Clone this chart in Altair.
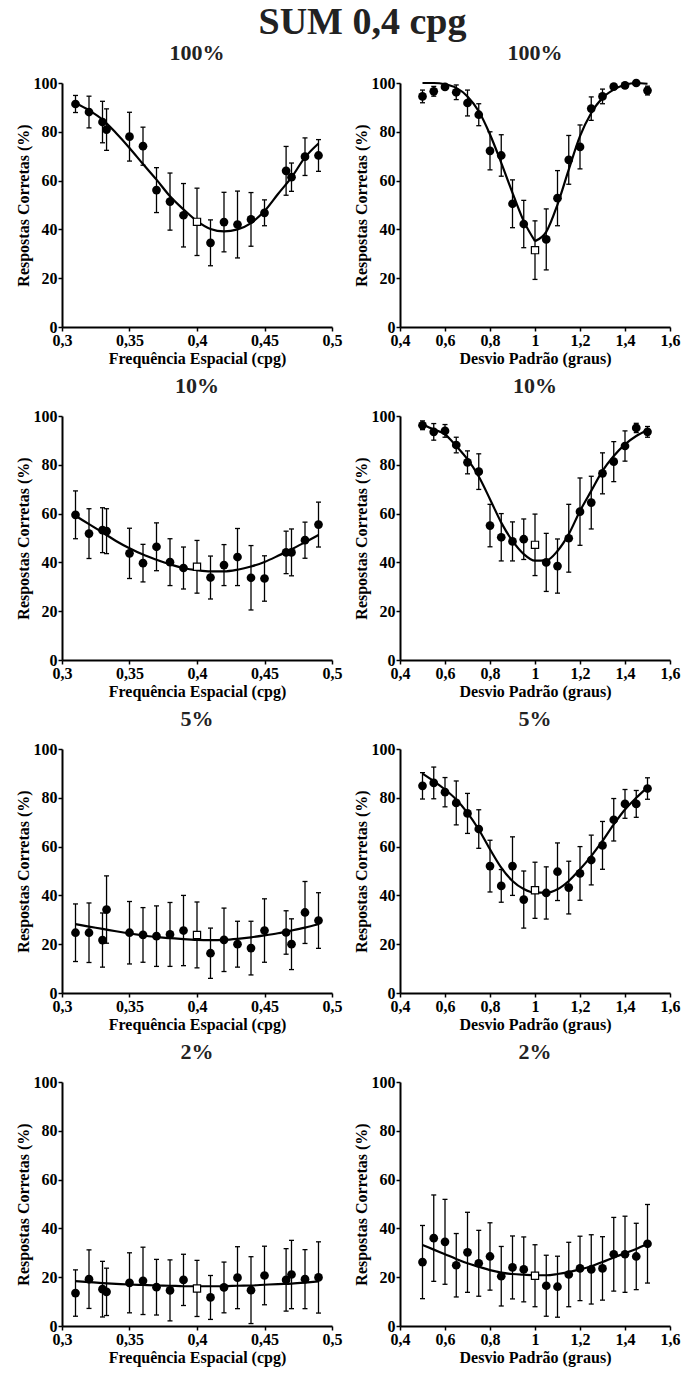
import altair as alt
import pandas as pd

# ---- x positions -------------------------------------------------------
# spatial frequency conditions (cpg)
SF_X = [0.31, 0.32, 0.33, 0.333, 0.35, 0.36, 0.37, 0.38, 0.39, 0.40,
        0.41, 0.42, 0.43, 0.44, 0.45, 0.466, 0.47, 0.48, 0.49]
# standard deviation conditions (degrees)
SD_X = [0.50, 0.55, 0.60, 0.65, 0.70, 0.75, 0.80, 0.85, 0.90, 0.95, 1.00,
        1.05, 1.10, 1.15, 1.20, 1.25, 1.30, 1.35, 1.40, 1.45, 1.50]
# abscissas of the fitted curves
SF_FIT_X = [0.31, 0.32, 0.33, 0.34, 0.35, 0.36, 0.37, 0.38, 0.39, 0.40,
            0.41, 0.42, 0.43, 0.44, 0.45, 0.46, 0.47, 0.48, 0.49]
SD_FIT_X = [0.50, 0.55, 0.60, 0.65, 0.70, 0.75, 0.80, 0.85, 0.90, 0.95, 1.00,
            1.05, 1.10, 1.15, 1.20, 1.25, 1.30, 1.35, 1.40, 1.45, 1.50]

LEVELS = ["100%", "10%", "5%", "2%"]

# ---- spatial frequency panels: mean, error, fitted curve ---------------
SF_100_MEAN = [91.4, 88.1, 84.0, 80.9, 78.0, 74.1, 56.1, 51.4, 45.8, 43.1,
               34.5, 43.0, 42.0, 44.1, 46.8, 64.0, 61.4, 69.8, 70.3]
SF_100_ERR = [3.5, 6.5, 8.5, 8.5, 10.0, 7.8, 9.2, 11.7, 13.0, 13.8,
              9.4, 12.2, 13.7, 11.0, 5.3, 10.0, 5.8, 7.7, 6.5]
SF_100_FIT = [91.8, 88.8, 85.0, 79.5, 73.4, 66.8, 60.4, 53.6, 48.2, 43.4,
              40.2, 39.2, 40.0, 42.6, 47.5, 54.5, 61.3, 69.5, 75.2]

SF_10_MEAN = [59.5, 51.8, 53.2, 52.8, 43.7, 39.7, 46.4, 40.1, 37.7, 38.2,
              33.8, 38.9, 42.2, 33.7, 33.4, 44.1, 44.1, 49.1, 55.5]
SF_10_ERR = [9.8, 10.2, 9.2, 9.2, 10.3, 7.7, 9.8, 9.6, 8.6, 10.8,
             8.8, 8.4, 11.7, 13.2, 9.3, 8.7, 9.6, 7.4, 9.2]
SF_10_FIT = [59.1, 55.7, 52.3, 48.8, 45.8, 43.2, 41.1, 39.2, 37.7, 36.8,
             36.3, 36.3, 37.0, 38.3, 40.2, 42.7, 45.4, 48.2, 51.2]

SF_5_MEAN = [24.7, 24.7, 21.7, 34.2, 24.7, 23.8, 23.3, 24.0, 25.6, 23.8,
             16.3, 21.8, 20.0, 18.4, 25.6, 24.8, 20.0, 33.0, 29.7]
SF_5_ERR = [11.8, 12.2, 11.1, 13.8, 12.8, 11.2, 12.4, 13.1, 14.4, 13.5,
            10.3, 13.0, 9.4, 11.0, 13.0, 8.9, 10.4, 12.7, 11.4]
SF_5_FIT = [28.2, 27.2, 26.3, 25.3, 24.4, 23.6, 22.9, 22.5, 22.1, 21.8,
            21.7, 21.8, 22.2, 22.8, 23.6, 24.5, 25.6, 26.8, 28.2]

SF_2_MEAN = [13.5, 19.2, 15.1, 14.0, 17.7, 18.5, 15.9, 14.6, 18.9, 15.4,
             11.7, 15.8, 19.8, 14.7, 20.7, 18.9, 21.1, 19.2, 19.9]
SF_2_ERR = [9.5, 12.0, 11.4, 9.7, 12.3, 13.8, 11.4, 12.5, 10.5, 11.5,
            9.0, 10.4, 12.7, 13.7, 12.0, 12.8, 14.0, 12.1, 14.6]
SF_2_FIT = [18.4, 18.0, 17.6, 17.3, 17.0, 16.8, 16.6, 16.5, 16.3, 16.3,
            16.3, 16.3, 16.5, 16.6, 16.9, 17.2, 17.4, 17.8, 18.3]

# ---- standard deviation panels -----------------------------------------
SD_100_MEAN = [94.5, 96.6, 98.4, 96.2, 91.8, 87.0, 72.2, 70.3, 50.5, 42.2, 31.5,
               35.9, 52.8, 68.5, 73.8, 89.5, 94.5, 98.5, 99.0, 100.0, 96.9]
SD_100_ERR = [2.6, 2.0, 1.0, 3.0, 5.3, 4.5, 7.8, 8.5, 9.8, 9.7, 12.0,
              12.5, 11.3, 10.0, 9.0, 4.8, 3.0, 1.0, 1.0, 0.5, 1.8]
SD_100_FIT = [100.0, 100.0, 99.5, 98.0, 94.5, 88.4, 78.9, 67.3, 55.0, 43.4, 35.2,
              39.0, 50.2, 64.5, 78.2, 87.7, 93.9, 97.3, 99.3, 100.0, 99.7]

SD_10_MEAN = [96.2, 93.5, 93.9, 88.1, 81.0, 77.2, 55.1, 50.3, 48.6, 49.5, 47.2,
              40.0, 38.5, 49.9, 60.8, 64.5, 76.5, 81.3, 87.7, 95.1, 93.5]
SD_10_ERR = [1.8, 3.4, 2.6, 3.2, 4.7, 7.3, 8.7, 9.7, 8.0, 8.3, 12.6,
             11.9, 11.1, 13.9, 13.8, 10.8, 8.4, 8.2, 6.2, 1.9, 2.2]
SD_10_FIT = [96.6, 94.5, 92.5, 87.7, 82.3, 75.2, 65.9, 56.3, 48.8, 43.4, 40.7,
             40.8, 44.7, 51.6, 61.1, 69.3, 77.5, 83.6, 88.4, 91.8, 94.3]

SD_5_MEAN = [84.9, 86.1, 82.3, 77.9, 73.6, 67.2, 52.0, 43.9, 52.0, 38.3, 42.1,
             41.0, 49.7, 43.2, 49.0, 54.5, 60.5, 71.0, 77.5, 77.5, 83.8]
SD_5_ERR = [5.4, 6.5, 6.0, 9.0, 8.2, 7.9, 10.6, 6.7, 12.0, 11.7, 11.5,
            10.7, 11.8, 10.8, 11.0, 10.2, 9.8, 8.7, 5.9, 5.5, 4.4]
SD_5_FIT = [89.9, 86.8, 83.4, 79.3, 73.8, 67.0, 58.9, 51.4, 45.9, 42.6, 41.1,
            41.1, 42.5, 45.9, 50.7, 56.1, 62.3, 69.1, 75.2, 80.0, 84.3]

SD_2_MEAN = [26.2, 36.0, 34.5, 24.9, 30.2, 25.7, 28.5, 20.4, 24.0, 23.2, 20.6,
             16.5, 16.1, 21.1, 23.6, 23.2, 23.6, 29.4, 29.4, 28.5, 33.7]
SD_2_ERR = [15.0, 17.7, 17.4, 13.0, 16.4, 13.5, 13.8, 12.2, 12.9, 13.3, 12.7,
            12.5, 12.5, 13.2, 13.2, 14.2, 13.0, 15.1, 15.6, 13.6, 16.1]
SD_2_FIT = [33.2, 31.3, 29.4, 27.5, 25.7, 24.3, 22.9, 21.9, 21.3, 21.0, 20.8,
            20.8, 21.3, 22.1, 23.2, 24.5, 26.2, 28.1, 29.8, 31.6, 33.7]

Y_TICKS = [0, 20, 40, 60, 80, 100]
Y_TITLE = "Respostas Corretas (%)"
SF_TICKS = [0.3, 0.35, 0.4, 0.45, 0.5]
SD_TICKS = [0.4, 0.6, 0.8, 1.0, 1.2, 1.4, 1.6]
SF_TITLE = "Frequência Espacial (cpg)"
SD_TITLE = "Desvio Padrão (graus)"

FONT = "Liberation Serif"
COMMA_LABELS = "replace(format(datum.value, '~g'), '.', ',')"


def panel(level, xs, mean, err, fit_x, fit, ref_x, x_dom, x_ticks, x_title,
          cusp=None):
    pts = pd.DataFrame({"x": xs, "m": mean, "e": err})
    pts["lo"] = pts["m"] - pts["e"]
    pts["hi"] = pts["m"] + pts["e"]
    pts["ref"] = (pts["x"] - ref_x).abs() < 1e-9

    fit_df = pd.DataFrame({"x": fit_x, "f": fit})
    if cusp is None:
        fit_df["seg"] = "a"
    else:
        left = fit_df[fit_df["x"] <= cusp + 1e-9].assign(seg="a")
        right = fit_df[fit_df["x"] >= cusp - 1e-9].assign(seg="b")
        fit_df = pd.concat([left, right], ignore_index=True)

    x_enc = alt.X("x:Q",
                  scale=alt.Scale(domain=x_dom, nice=False, zero=False),
                  axis=alt.Axis(values=x_ticks, title=x_title,
                                labelExpr=COMMA_LABELS))

    def y_enc(field):
        return alt.Y(f"{field}:Q",
                     scale=alt.Scale(domain=[0, 100], nice=False),
                     axis=alt.Axis(values=Y_TICKS, title=Y_TITLE))

    base = alt.Chart(pts)
    bars = base.mark_rule(color="black", strokeWidth=1.3).encode(
        x=x_enc, y=y_enc("lo"), y2="hi")
    cap_lo = base.mark_tick(orient="horizontal", size=5, thickness=1.3,
                            color="black", opacity=1).encode(
        x=x_enc, y=y_enc("lo"))
    cap_hi = base.mark_tick(orient="horizontal", size=5, thickness=1.3,
                            color="black", opacity=1).encode(
        x=x_enc, y=y_enc("hi"))
    curve = alt.Chart(fit_df).mark_line(
        color="black", strokeWidth=2.2, interpolate="monotone").encode(
        x=x_enc, y=y_enc("f"), detail="seg:N")
    dots = base.transform_filter("!datum.ref").mark_circle(
        size=76, color="black", opacity=1).encode(x=x_enc, y=y_enc("m"))
    square = base.transform_filter("datum.ref").mark_square(
        size=52, fill="white", stroke="black", strokeWidth=1.2,
        opacity=1).encode(x=x_enc, y=y_enc("m"))

    return alt.layer(bars, cap_lo, cap_hi, curve, dots, square).properties(
        width=270, height=244, title=level)


SF_DATA = [(SF_100_MEAN, SF_100_ERR, SF_100_FIT),
           (SF_10_MEAN, SF_10_ERR, SF_10_FIT),
           (SF_5_MEAN, SF_5_ERR, SF_5_FIT),
           (SF_2_MEAN, SF_2_ERR, SF_2_FIT)]
SD_DATA = [(SD_100_MEAN, SD_100_ERR, SD_100_FIT),
           (SD_10_MEAN, SD_10_ERR, SD_10_FIT),
           (SD_5_MEAN, SD_5_ERR, SD_5_FIT),
           (SD_2_MEAN, SD_2_ERR, SD_2_FIT)]

panels = []
for i, level in enumerate(LEVELS):
    m, e, f = SF_DATA[i]
    panels.append(panel(level, SF_X, m, e, SF_FIT_X, f, 0.40,
                        [0.3, 0.5], SF_TICKS, SF_TITLE))
    m, e, f = SD_DATA[i]
    panels.append(panel(level, SD_X, m, e, SD_FIT_X, f, 1.00,
                        [0.4, 1.6], SD_TICKS, SD_TITLE,
                        cusp=1.0 if i == 0 else None))

chart = alt.concat(
    *panels, columns=2, spacing={"row": 89, "column": 68}, bounds="flush",
    title=alt.TitleParams("SUM 0,4 cpg", fontSize=38, font=FONT,
                          fontWeight="bold", color="#222", anchor="middle",
                          frame="bounds", offset=0, dx=15),
).properties(
    padding={"left": 15, "top": 4, "right": 2, "bottom": 5},
).configure_view(
    stroke=None,
).configure_axis(
    grid=False, domainColor="black", domainWidth=2, tickColor="black",
    tickWidth=1.5, tickSize=4, labelFont=FONT, labelFontWeight="bold",
    labelFontSize=16, labelColor="black", labelPadding=1, labelFlush=False,
    titleFont=FONT, titleFontWeight="bold", titleFontSize=16,
    titleColor="black", titlePadding=2,
).configure_title(
    font=FONT, fontWeight="bold", fontSize=22, color="#222",
    anchor="middle", frame="group", offset=10,
)

chart.save("out.html", embed_options={"renderer": "svg", "actions": False})
